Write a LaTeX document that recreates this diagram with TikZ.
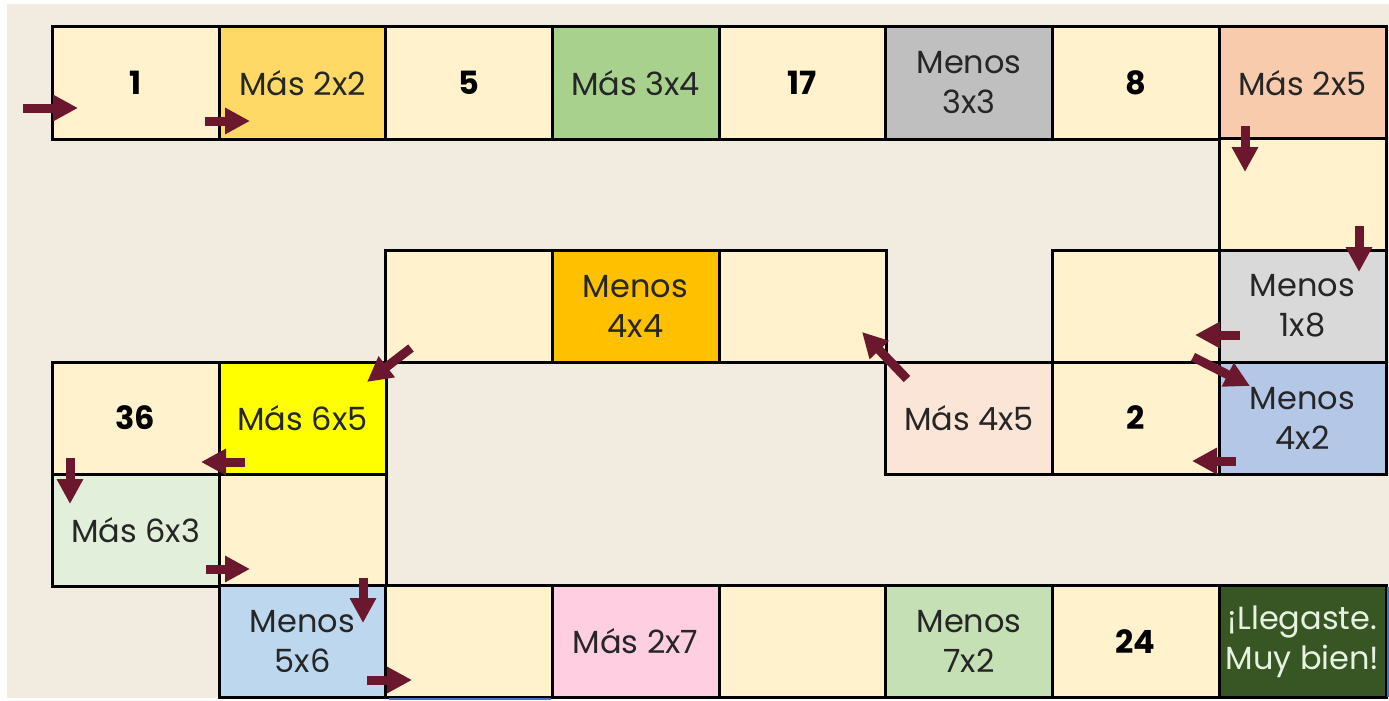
\documentclass[tikz,border=0pt]{standalone}
\usepackage{fontspec}
\setmainfont{Poppins}
\usetikzlibrary{arrows.meta}
\definecolor{bg}{RGB}{242,235,224}
\definecolor{cream}{RGB}{255,242,204}
\definecolor{gold}{RGB}{255,217,102}
\definecolor{lgreen}{RGB}{169,209,142}
\definecolor{gray1}{RGB}{191,191,191}
\definecolor{peach}{RGB}{248,203,173}
\definecolor{orange1}{RGB}{255,192,0}
\definecolor{gray2}{RGB}{217,217,217}
\definecolor{yel}{RGB}{255,255,0}
\definecolor{pinkish}{RGB}{251,229,214}
\definecolor{blue1}{RGB}{180,199,231}
\definecolor{pgreen}{RGB}{226,239,218}
\definecolor{sky}{RGB}{189,215,238}
\definecolor{pink}{RGB}{255,206,224}
\definecolor{mgreen}{RGB}{197,224,180}
\definecolor{dgreen}{RGB}{55,86,35}
\definecolor{txt}{RGB}{38,38,38}
\definecolor{arrowc}{RGB}{107,24,47}
\definecolor{edgeblue}{RGB}{68,114,196}
\begin{document}
\begin{tikzpicture}[x=1pt,y=-1pt,
  cell/.style={draw=black, line width=3pt, fill=cream, minimum width=167pt, minimum height=112pt,
    inner sep=0pt, align=center, font=\fontsize{32}{40}\selectfont, text=txt},
  num/.style={cell, font=\fontsize{32}{40}\selectfont\bfseries, text=black},
  arr/.style={draw=arrowc, line width=9pt, -{Triangle[length=25pt,width=25pt]}}]
\useasboundingbox (0,0) rectangle (1389,701);
\fill[white] (0,0) rectangle (1389,701);
\fill[bg] (7,4) rectangle (1389,698);
% row 1
\node[num] (c1) at (135.5,83) {1};
\node[cell, fill=gold] (c2) at (302.5,83) {Más 2x2};
\node[num] (c3) at (469,83) {5};
\node[cell, fill=lgreen] (c4) at (635.5,83) {Más 3x4};
\node[num] (c5) at (802.5,83) {17};
\node[cell, fill=gray1] (c6) at (969,83) {Menos\\3x3};
\node[num] (c7) at (1135.5,83) {8};
\node[cell, fill=peach] (c8) at (1302.5,83) {Más 2x5};
% row 2
\node[cell] (c9) at (1302.5,194.5) {};
% row 3
\node[cell, fill=gray2] (c10) at (1302.5,306) {Menos\\1x8};
\node[cell] (c11) at (1135.5,306) {};
\node[cell] (c14) at (802.5,306) {};
\node[cell, fill=orange1] (c15) at (635.5,306) {Menos\\4x4};
\node[cell] (c16) at (469,306) {};
% row 4
\node[cell, fill=blue1] (c12) at (1302.5,418) {Menos\\4x2};
\node[num] (c12b) at (1135.5,418) {2};
\node[cell, fill=pinkish] (c13) at (969,418) {Más 4x5};
\node[cell, fill=yel] (c17) at (302.5,418) {Más 6x5};
\node[num] (c18) at (135.5,418) {36};
% row 5
\node[cell, fill=pgreen] (c19) at (135.5,530) {Más 6x3};
\node[cell] (c20) at (302.5,530) {};
% row 6
\node[cell, fill=sky] (c21) at (302.5,641.5) {Menos\\5x6};
\node[cell] (c22) at (469,641.5) {};
\node[cell, fill=pink] (c23) at (635.5,641.5) {Más 2x7};
\node[cell] (c24) at (802.5,641.5) {};
\node[cell, fill=mgreen] (c25) at (969,641.5) {Menos\\7x2};
\node[num] (c26) at (1135.5,641.5) {24};
\node[cell, fill=dgreen, text={rgb,255:red,232;green,242;blue,224}] (c27) at (1302.5,641.5) {¡Llegaste.\\Muy bien!};
% blue edge lines
\draw[edgeblue, line width=2pt] (389,698.5) -- (551,698.5);
\draw[edgeblue, line width=2pt] (1387.5,587) -- (1387.5,697);
% arrow endpoints
\coordinate (a1s) at (23,108);   \coordinate (a1e) at (78,108);
\coordinate (a2s) at (205,121);  \coordinate (a2e) at (250,121);
\coordinate (a3s) at (1245,126); \coordinate (a3e) at (1245,172);
\coordinate (a4s) at (1359,226); \coordinate (a4e) at (1359,272);
\coordinate (a5s) at (1240,335); \coordinate (a5e) at (1195,335);
\coordinate (a6s) at (1193,357); \coordinate (a6e) at (1250,386);
\coordinate (a7s) at (1236,461); \coordinate (a7e) at (1192,461);
\coordinate (a8s) at (907,379);  \coordinate (a8e) at (862,332);
\coordinate (a9s) at (411,348);  \coordinate (a9e) at (367,382);
\coordinate (a10s) at (245,462); \coordinate (a10e) at (201,462);
\coordinate (a11s) at (70,458);  \coordinate (a11e) at (70,504);
\coordinate (a12s) at (206,569); \coordinate (a12e) at (250,569);
\coordinate (a13s) at (363,578); \coordinate (a13e) at (363,623);
\coordinate (a14s) at (367,680); \coordinate (a14e) at (412,680);
\foreach \i in {1,...,14} {\draw[arr] (a\i s) -- (a\i e);}
\end{tikzpicture}
\end{document}
